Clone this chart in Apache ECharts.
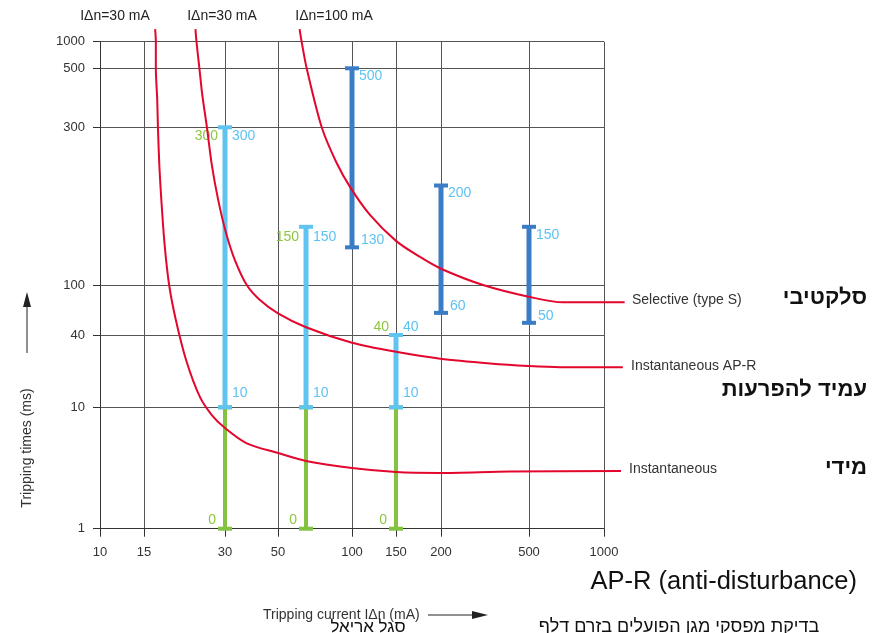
<!DOCTYPE html>
<html>
<head>
<meta charset="utf-8">
<script src="https://cdn.jsdelivr.net/npm/echarts@6/dist/echarts.min.js"></script>
<style>
  html, body { margin: 0; padding: 0; background: #fff; }
  #main { width: 886px; height: 633px; }
</style>
</head>
<body>
<div id="main"></div>
<script>
// printed scale of the sheet (log-like but not regular)
const xTicks = [10, 15, 30, 50, 100, 150, 200, 500, 1000];
const xTickPos = [0, 44, 125, 178, 252, 296, 341, 429, 504];
const yTicks = [1, 10, 40, 100, 300, 500, 1000];
const yTickPos = [0, 121.4, 193.7, 243.7, 401.4, 460.4, 487];

// trip curves, current (mA) / time (ms)
const instX = [16.5, 16.6, 16.6, 16.8, 16.9, 17.1, 17.4, 17.9, 18.6, 19.7, 21.5, 24.2, 26.8, 30, 37, 50, 65, 100, 150, 198, 410, 1170];
const instY = [1390, 1000, 500, 380, 300, 231, 181, 132, 100, 52.6, 24.8, 12.2, 8.64, 6.75, 5.05, 4.2, 3.61, 3.16, 2.93, 2.88, 2.96, 2.99];
const aprX = [23.3, 23.5, 24.1, 24.7, 25.7, 26.8, 28.3, 30.3, 33, 37, 42, 50, 65, 100, 150, 199, 333, 496, 666, 1190];
const aprY = [1390, 1000, 500, 397, 300, 231, 181, 143.7, 119, 100, 76, 59.5, 46.1, 34.5, 29, 25.4, 23.2, 22.1, 21.6, 21.6];
const selX = [61.2, 62.4, 65.4, 75.3, 86.6, 99, 118, 150, 174, 200, 310, 498, 685, 1210];
const selY = [1390, 1000, 500, 300, 234, 196, 163, 136, 122, 112, 100, 80.7, 72.8, 72.8];

// test ranges
const lightX = [30, 65, 150];
const lightLo = [10, 10, 10];
const lightHi = [300, 150, 40];
const greenLo = [0, 0, 0];
const greenHi = [10, 10, 10];
const darkX = [100, 200, 500];
const darkLo = [130, 60, 50];
const darkHi = [500, 200, 150];

const topLabels = ['I\u0394n=30 mA', 'I\u0394n=30 mA', 'I\u0394n=100 mA'];

const RED = '#e3062d';
const LBLUE = '#5fc4f0';
const DBLUE = '#3b7cc6';
const GREEN = '#84c341';
const TXT_BLUE = '#5cc3f1';
const TXT_GREEN = '#8cc63f';
const FONT = '"Liberation Sans", Arial, sans-serif';

function toPos(v, ticks, pos) {
  v = Math.max(v, ticks[0]);
  let i = 0;
  while (i < ticks.length - 2 && v > ticks[i + 1]) i++;
  const t = Math.log(v / ticks[i]) / Math.log(ticks[i + 1] / ticks[i]);
  return pos[i] + t * (pos[i + 1] - pos[i]);
}
const sx = v => toPos(v, xTicks, xTickPos);
const sy = v => toPos(v, yTicks, yTickPos);

function tickLabel(ticks, pos) {
  return function (v) {
    for (let i = 0; i < pos.length; i++) {
      if (Math.abs(pos[i] - v) < 0.01) return String(ticks[i]);
    }
    return '';
  };
}

// curves sit on a second, wider (hidden) grid so they can run past the frame
function curve(xs, ys) {
  return {
    type: 'line',
    xAxisIndex: 1,
    yAxisIndex: 1,
    data: xs.map((x, i) => [sx(x), sy(ys[i])]),
    showSymbol: false,
    smooth: 0.3,
    clip: false,
    z: 5,
    lineStyle: { color: RED, width: 2 }
  };
}

function txt(x, y, s, color, align) {
  return {
    type: 'text', x: x, y: y,
    style: {
      text: s, fill: color, font: '14px ' + FONT,
      align: align, textAlign: align, verticalAlign: 'middle', textVerticalAlign: 'middle'
    }
  };
}

function barShapes(p0, p1, color, w) {
  return [
    { type: 'line', shape: { x1: p0[0], y1: p0[1], x2: p1[0], y2: p1[1] }, style: { stroke: color, lineWidth: w } },
    { type: 'line', shape: { x1: p0[0] - 7, y1: p0[1], x2: p0[0] + 7, y2: p0[1] }, style: { stroke: color, lineWidth: 4 } },
    { type: 'line', shape: { x1: p1[0] - 7, y1: p1[1], x2: p1[0] + 7, y2: p1[1] }, style: { stroke: color, lineWidth: 4 } }
  ];
}

const lightTopDy = [9, 10, -8];

const greenSeries = {
  type: 'custom',
  z: 3,
  encode: { x: 0, y: [1, 2] },
  data: lightX.map((x, i) => [sx(x), sy(greenLo[i]), sy(greenHi[i])]),
  renderItem: function (params, api) {
    const p0 = api.coord([api.value(0), api.value(1)]);
    const p1 = api.coord([api.value(0), api.value(2)]);
    const ch = barShapes(p0, p1, GREEN, 4);
    ch.push(txt(p0[0] - 9, p0[1] - 9, String(greenLo[params.dataIndex]), TXT_GREEN, 'right'));
    return { type: 'group', children: ch };
  }
};

const lightSeries = {
  type: 'custom',
  z: 4,
  encode: { x: 0, y: [1, 2] },
  data: lightX.map((x, i) => [sx(x), sy(lightLo[i]), sy(lightHi[i])]),
  renderItem: function (params, api) {
    const i = params.dataIndex;
    const p0 = api.coord([api.value(0), api.value(1)]);
    const p1 = api.coord([api.value(0), api.value(2)]);
    const ch = barShapes(p0, p1, LBLUE, 5);
    ch.push(txt(p1[0] + 7, p1[1] + lightTopDy[i], String(lightHi[i]), TXT_BLUE, 'left'));
    ch.push(txt(p1[0] - 7, p1[1] + lightTopDy[i], String(lightHi[i]), TXT_GREEN, 'right'));
    ch.push(txt(p0[0] + 7, p0[1] - 14, String(lightLo[i]), TXT_BLUE, 'left'));
    return { type: 'group', children: ch };
  }
};

const darkSeries = {
  type: 'custom',
  z: 4,
  encode: { x: 0, y: [1, 2] },
  data: darkX.map((x, i) => [sx(x), sy(darkLo[i]), sy(darkHi[i])]),
  renderItem: function (params, api) {
    const i = params.dataIndex;
    const p0 = api.coord([api.value(0), api.value(1)]);
    const p1 = api.coord([api.value(0), api.value(2)]);
    const ch = barShapes(p0, p1, DBLUE, 5);
    ch.push(txt(p1[0] + 7, p1[1] + 8, String(darkHi[i]), TXT_BLUE, 'left'));
    ch.push(txt(p0[0] + 9, p0[1] - 7, String(darkLo[i]), TXT_BLUE, 'left'));
    return { type: 'group', children: ch };
  }
};

function gtext(x, y, s, size, opts) {
  opts = opts || {};
  return {
    type: 'text', x: x, y: y, rotation: opts.rot || 0, z: 10,
    style: {
      text: s, fill: opts.color || '#222',
      font: (opts.weight || 'normal') + ' ' + size + 'px ' + FONT,
      align: opts.align || 'left', textAlign: opts.align || 'left',
      verticalAlign: 'middle', textVerticalAlign: 'middle'
    }
  };
}

const chart = echarts.init(document.getElementById('main'));
chart.setOption({
  animation: false,
  backgroundColor: '#fff',
  grid: [
    { left: 100, top: 41.7, width: 504, height: 487 },
    { left: 100, top: 41.7, width: 530, height: 487 }
  ],
  xAxis: [{
    type: 'value', min: 0, max: 504,
    axisLine: { lineStyle: { color: '#333', width: 1 } },
    axisTick: { show: true, length: 8, customValues: xTickPos, lineStyle: { color: '#333' } },
    axisLabel: { customValues: xTickPos, formatter: tickLabel(xTicks, xTickPos), color: '#333', fontSize: 13, fontFamily: FONT, margin: 17 },
    splitLine: { show: true, lineStyle: { color: '#555', width: 1 } }
  }, {
    type: 'value', gridIndex: 1, min: 0, max: 530, show: false
  }],
  yAxis: [{
    type: 'value', min: 0, max: 487,
    axisLine: { show: true, lineStyle: { color: '#333', width: 1 } },
    axisTick: { show: true, length: 7, customValues: yTickPos, lineStyle: { color: '#333' } },
    axisLabel: { customValues: yTickPos, formatter: tickLabel(yTicks, yTickPos), color: '#333', fontSize: 13, fontFamily: FONT, margin: 15 },
    splitLine: { show: true, lineStyle: { color: '#555', width: 1 } }
  }, {
    type: 'value', gridIndex: 1, min: 0, max: 487, show: false
  }],
  series: [
    greenSeries,
    lightSeries,
    darkSeries,
    curve(instX, instY),
    curve(aprX, aprY),
    curve(selX, selY)
  ],
  graphic: [
    gtext(115, 16, topLabels[0], 14, { align: 'center' }),
    gtext(222, 16, topLabels[1], 14, { align: 'center' }),
    gtext(334, 16, topLabels[2], 14, { align: 'center' }),
    gtext(632, 300, 'Selective (type S)', 14, { color: '#333' }),
    gtext(631, 366, 'Instantaneous AP-R', 14, { color: '#333' }),
    gtext(629, 469, 'Instantaneous', 14, { color: '#333' }),
    gtext(867, 298, 'סלקטיבי', 22, { align: 'right', weight: 'bold', color: '#111' }),
    gtext(867, 390, 'עמיד להפרעות', 22, { align: 'right', weight: 'bold', color: '#111' }),
    gtext(867, 468, 'מידי', 22, { align: 'right', weight: 'bold', color: '#111' }),
    gtext(857, 582, 'AP-R (anti-disturbance)', 25.5, { align: 'right', color: '#111' }),
    gtext(27, 448, 'Tripping times (ms)', 14, { align: 'center', rot: Math.PI / 2, color: '#333' }),
    gtext(263, 615, 'Tripping current I\u0394n (mA)', 14, { color: '#333' }),
    gtext(368, 627, 'סגל אריאל', 17, { align: 'center', color: '#111' }),
    gtext(679, 627, 'בדיקת מפסקי מגן הפועלים בזרם דלף', 18, { align: 'center', color: '#111' }),
    { type: 'line', shape: { x1: 27, y1: 353, x2: 27, y2: 305 }, style: { stroke: '#222', lineWidth: 1 } },
    { type: 'polygon', shape: { points: [[27, 292], [23, 307], [31, 307]] }, style: { fill: '#222' } },
    { type: 'line', shape: { x1: 428, y1: 615, x2: 474, y2: 615 }, style: { stroke: '#222', lineWidth: 1 } },
    { type: 'polygon', shape: { points: [[488, 615], [472, 611], [472, 619]] }, style: { fill: '#222' } }
  ]
});
</script>
</body>
</html>
